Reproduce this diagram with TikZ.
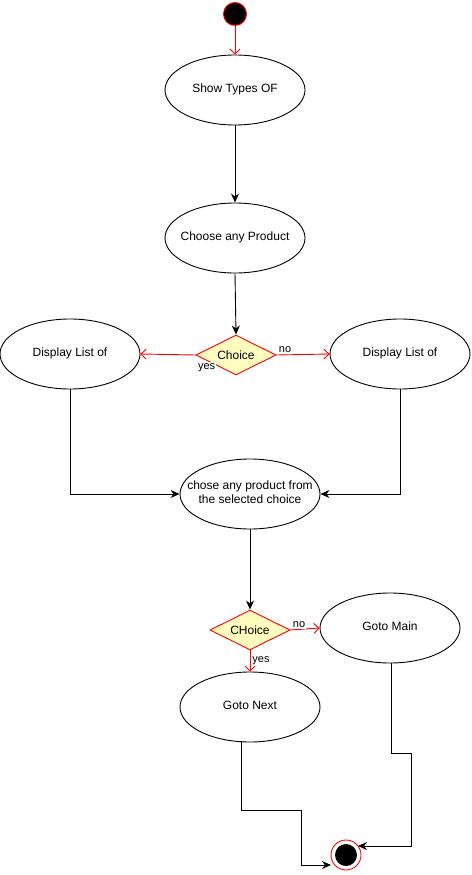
\documentclass[tikz,border=0pt]{standalone}
\usepackage{fontspec}
\setmainfont{Liberation Sans}
\usetikzlibrary{shapes.geometric,arrows.meta,calc}
\newcommand{\fixedtext}[1]{\makebox[0pt]{\begin{tabular}{@{}c@{}}#1\end{tabular}}}
\begin{document}
\begin{tikzpicture}[x=1pt,y=-1pt,
  every node/.style={font=\fontsize{12}{14}\selectfont},
  stateell/.style={ellipse,draw=black,line width=0.9pt,minimum width=140pt,minimum height=70pt,inner sep=0pt,fill=white},
  choicebox/.style={diamond,draw=red,fill=yellow!25!white,line width=0.9pt,minimum width=80pt,minimum height=40pt,inner sep=0pt,aspect=2},
  blk/.style={draw=black,line width=0.9pt,-{Stealth[length=9pt,width=8pt]}},
  redarr/.style={draw=red,line width=0.9pt,-{Straight Barb[length=5pt,width=10pt]}},
  lbl/.style={font=\fontsize{11}{13}\selectfont,inner sep=1pt,fill=white}]
\useasboundingbox (0,0) rectangle (471,875);
\node[circle,draw=red,fill=black,minimum size=23pt,inner sep=0pt,line width=0.9pt] (start) at (235,14) {};
\node[stateell] (show) at (235,90) {\fixedtext{Show Types OF}};
\node[stateell] (choose) at (235,238) {\fixedtext{Choose any Product}};
\node[choicebox] (d1) at (236,355) {Choice};
\node[stateell] (dispL) at (70,354) {\fixedtext{Display List of}};
\node[stateell] (dispR) at (400,354) {\fixedtext{Display List of}};
\node[stateell] (mid) at (250,494) {\fixedtext{chose any product from\\the selected choice}};
\node[choicebox] (d2) at (250,630) {CHoice};
\node[stateell] (gmain) at (390,628) {\fixedtext{Goto Main}};
\node[stateell] (gnext) at (250,707) {\fixedtext{Goto Next}};
\node[circle,draw=red,fill=white,minimum size=30pt,inner sep=0pt,line width=0.9pt] (end) at (346,855) {};
\node[circle,fill=black,minimum size=22pt,inner sep=0pt] (endin) at (end) {};

\draw[redarr] (start) -- (show.north);
\draw[blk] (show.south) -- (choose.north);
\draw[blk] (choose.south) -- (d1.north);
\draw[redarr] (d1.west) -- node[at start,lbl,anchor=north west,xshift=1pt,yshift=-7pt]{yes} (dispL.east);
\draw[redarr] (d1.east) -- node[at start,lbl,anchor=south west,xshift=1pt,yshift=1pt]{no} (dispR.west);
\draw[blk] (dispL.south) |- (mid.west);
\draw[blk] (dispR.south) |- (mid.east);
\draw[blk] (mid.south) -- (d2.north);
\draw[redarr] (d2.east) -- node[at start,lbl,anchor=south west,xshift=1pt,yshift=1pt]{no} (gmain.west);
\draw[redarr] (d2.south) -- node[at start,lbl,anchor=north west,xshift=1pt,yshift=-5pt]{yes} (gnext.north);
\coordinate (gnOut) at ($(gnext.south)+(-9,-1)$);
\coordinate (gmOut) at ($(gmain.south)+(1,0)$);
\draw[blk] (gnOut) -- (241,810) -- (301,810) -- (301,865) -- ($(end.center)+(-15,10)$);
\draw[blk] (gmOut) -- (391,753) -- (411,753) -- (411,846) -- ($(end.center)+(12,-9)$);
\end{tikzpicture}
\end{document}
